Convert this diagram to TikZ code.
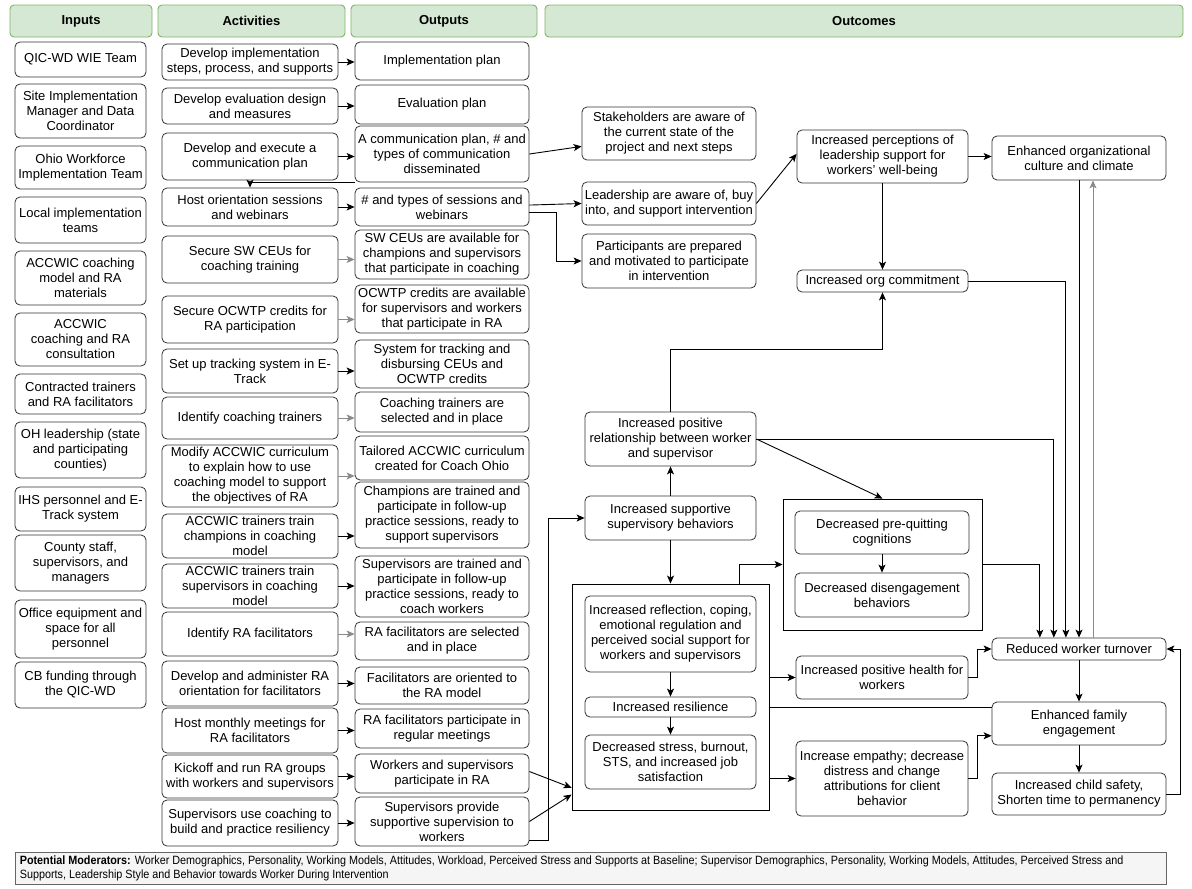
\documentclass[tikz,border=0pt]{standalone}
\usepackage{fontspec}
\setmainfont{Liberation Sans}
\newfontfamily\narrowfont[FakeStretch=0.9]{Liberation Sans}
\usetikzlibrary{arrows.meta,calc}
\definecolor{hdrfill}{HTML}{D5E8D4}
\definecolor{hdrline}{HTML}{82B366}
\definecolor{footfill}{HTML}{F5F5F5}
\definecolor{footline}{HTML}{666666}
\definecolor{garrow}{HTML}{8A8A8A}
\newcommand\bx[7][box]{%
  \pgfmathsetmacro\bxw{#5-#3}%
  \pgfmathsetmacro\bxh{#6-#4}%
  \pgfmathsetmacro\bxx{(#3+#5)/2}%
  \pgfmathsetmacro\bxy{(#4+#6)/2}%
  \node[#1, minimum width=\bxw pt, minimum height=\bxh pt] (#2) at (\bxx,\bxy) {#7};}
\begin{document}
\begin{tikzpicture}[x=1pt,y=-1pt,
  box/.style={draw=black!80, line width=0.8pt, rounded corners=5pt, align=center, inner sep=1pt, font=\fontsize{13}{15}\selectfont, fill=white},
  hdr/.style={draw=hdrline, fill=hdrfill, line width=0.9pt, rounded corners=4pt, align=center, inner sep=1pt, font=\fontsize{13}{15}\selectfont\bfseries},
  sqbox/.style={draw=black, line width=0.9pt, inner sep=0pt},
  footbox/.style={draw=footline, fill=footfill, line width=0.8pt, inner sep=0pt},
  arr/.style={-{Stealth[length=8pt,width=7pt,inset=2pt]}, line width=0.9pt},
  garr/.style={arr, draw=garrow},
  ln/.style={line width=0.9pt}]
\useasboundingbox (0,0) rectangle (1192,889);
\fill[white] (0,0) rectangle (1192,889);
% headers
\bx[hdr]{hIn}{10}{5}{152}{37}{Inputs}
\bx[hdr]{hAct}{158}{5}{345}{37}{Activities}
\bx[hdr]{hOut}{351}{5}{537}{37}{Outputs}
\bx[hdr]{hOc}{545}{5}{1183}{37}{Outcomes}
% inputs
\bx{i1}{15}{42}{146}{77}{QIC-WD WIE Team}
\bx{i2}{15}{84}{146}{138}{Site Implementation\\Manager and Data\\Coordinator}
\bx{i3}{15}{146}{146}{189}{Ohio Workforce\\Implementation Team}
\bx{i4}{15}{197}{146}{243}{Local implementation\\teams}
\bx{i5}{15}{251}{146}{305}{ACCWIC coaching\\model and RA\\materials}
\bx{i6}{15}{313}{146}{366}{ACCWIC\\coaching and RA\\consultation}
\bx{i7}{15}{374}{146}{414}{Contracted trainers\\and RA facilitators}
\bx{i8}{15}{422}{146}{478}{OH leadership (state\\and participating\\counties)}
\bx{i9}{15}{487}{146}{531}{IHS personnel and E-\\Track system}
\bx{i10}{15}{535}{146}{591}{County staff,\\supervisors, and\\managers}
\bx{i11}{15}{600}{146}{658}{Office equipment and\\space for all\\personnel}
\bx{i12}{15}{662}{146}{708}{CB funding through\\the QIC-WD}
% activities
\bx{a1}{162}{44}{338}{80}{Develop implementation\\steps, process, and supports}
\bx{a2}{162}{88}{338}{124}{Develop evaluation design\\and measures}
\bx{a3}{162}{133}{338}{180}{Develop and execute a\\communication plan}
\bx{a4}{162}{188}{338}{226}{Host orientation sessions\\and webinars}
\bx{a5}{162}{236}{338}{283}{Secure SW CEUs for\\coaching training}
\bx{a6}{162}{296}{338}{343}{Secure OCWTP credits for\\RA participation}
\bx{a7}{162}{349}{338}{393}{Set up tracking system in E-\\Track}
\bx{a8}{162}{397}{338}{439}{Identify coaching trainers}
\bx{a9}{162}{445}{338}{507}{Modify ACCWIC curriculum\\to explain how to use\\coaching model to support\\the objectives of RA}
\bx{a10}{162}{514}{338}{558}{ACCWIC trainers train\\champions in coaching\\model}
\bx{a11}{162}{564}{338}{608}{ACCWIC trainers train\\supervisors in coaching\\model}
\bx{a12}{162}{612}{338}{656}{Identify RA facilitators}
\bx{a13}{162}{661}{338}{706}{Develop and administer RA\\orientation for facilitators}
\bx{a14}{162}{708}{338}{753}{Host monthly meetings for\\RA facilitators}
\bx{a15}{162}{755}{338}{798}{Kickoff and run RA groups\\with workers and supervisors}
\bx{a16}{162}{800}{338}{846}{Supervisors use coaching to\\build and practice resiliency}
% outputs
\bx{o1}{355}{42}{529}{80}{Implementation plan}
\bx{o2}{355}{85}{529}{124}{Evaluation plan}
\bx{o3}{355}{126}{529}{182}{A communication plan, \# and\\types of communication\\disseminated}
\bx{o4}{355}{188}{529}{226}{\# and types of sessions and\\webinars}
\bx{o5}{355}{230}{529}{279}{SW CEUs are available for\\champions and supervisors\\that participate in coaching}
\bx{o6}{355}{285}{529}{333}{OCWTP credits are available\\for supervisors and workers\\that participate in RA}
\bx{o7}{355}{340}{529}{388}{System for tracking and\\disbursing CEUs and\\OCWTP credits}
\bx{o8}{355}{392}{529}{432}{Coaching trainers are\\selected and in place}
\bx{o9}{355}{436}{529}{480}{Tailored ACCWIC curriculum\\created for Coach Ohio}
\bx{o10}{355}{482}{529}{548}{Champions are trained and\\participate in follow-up\\practice sessions, ready to\\support supervisors}
\bx{o11}{355}{556}{529}{617}{Supervisors are trained and\\participate in follow-up\\practice sessions, ready to\\coach workers}
\bx{o12}{355}{622}{529}{660}{RA facilitators are selected\\and in place}
\bx{o13}{355}{667}{529}{704}{Facilitators are oriented to\\the RA model}
\bx{o14}{355}{709}{529}{748}{RA facilitators participate in\\regular meetings}
\bx{o15}{355}{754}{529}{793}{Workers and supervisors\\participate in RA}
\bx{o16}{355}{797}{529}{846}{Supervisors provide\\supportive supervision to\\workers}
% outcomes
\bx{s1}{582}{107}{756}{160}{Stakeholders are aware of\\the current state of the\\project and next steps}
\bx{s2}{582}{182}{756}{225}{Leadership are aware of, buy\\into, and support intervention}
\bx{s3}{582}{234}{756}{288}{Participants are prepared\\and motivated to participate\\in intervention}
\bx{p1}{797}{130}{968}{183}{Increased perceptions of\\leadership support for\\workers{\char39} well-being}
\bx{c1}{992}{136}{1166}{180}{Enhanced organizational\\culture and climate}
\bx{oc}{797}{270}{968}{292}{Increased org commitment}
\bx{r1}{585}{412}{756}{466}{Increased positive\\relationship between worker\\and supervisor}
\bx{ss}{585}{496}{756}{540}{Increased supportive\\supervisory behaviors}
\bx[sqbox]{big}{572}{584}{769}{810}{}
\bx{rf}{585}{596}{756}{672}{Increased reflection, coping,\\emotional regulation and\\perceived social support for\\workers and supervisors}
\bx{rs}{585}{697}{756}{717}{Increased resilience}
\bx{ds}{585}{735}{756}{789}{Decreased stress, burnout,\\STS, and increased job\\satisfaction}
\bx[sqbox]{box2}{783}{499}{982}{630}{}
\bx{pq}{795}{511}{969}{554}{Decreased pre-quitting\\cognitions}
\bx{dg}{795}{573}{969}{617}{Decreased disengagement\\behaviors}
\bx{tv}{992}{638}{1166}{660}{Reduced worker turnover}
\bx{ph}{796}{656}{968}{699}{Increased positive health for\\workers}
\bx{fe}{992}{702}{1166}{745}{Enhanced family\\engagement}
\bx{em}{796}{741}{968}{816}{Increase empathy; decrease\\distress and change\\attributions for client\\behavior}
\bx{cs}{992}{773}{1166}{815}{Increased child safety,\\Shorten time to permanency}
% footer
\bx[footbox]{ft}{15}{852}{1166}{884}{}
\node[anchor=west, align=left, inner sep=0pt, font=\narrowfont\fontsize{12}{14}\selectfont] (fttext) at ($(ft.west)+(5,0)$)
 {\textbf{Potential Moderators:} Worker Demographics, Personality, Working Models, Attitudes, Workload, Perceived Stress and Supports at Baseline; Supervisor Demographics, Personality, Working Models, Attitudes, Perceived Stress and\\Supports, Leadership Style and Behavior towards Worker During Intervention};
% activity -> output
\foreach \i in {1,2,3,4,7,10,11,13,14,15,16} \draw[arr] (a\i.east) -- (a\i.east -| o\i.west);
\foreach \i in {5,6,8,9,12} \draw[garr] (a\i.east) -- (a\i.east -| o\i.west);
% comm plan output -> host orientation
\draw[arr] (o3.south west) -- (o3.south west -| a4.north) -- (a4.north);
% outputs -> short-term outcomes
\draw[arr] (o3.east) -- ($(s1.north west)!0.74!(s1.south west)$);
\draw[arr] ($(o4.north east)!0.45!(o4.south east)$) -- ($(s2.north west)!0.5!(s2.south west)$);
\draw[arr] ($(o4.north east)!0.65!(o4.south east)$) -- ++(27,0) |- (s3.west);
\draw[arr] (s2.east) -- ($(p1.north west)!0.45!(p1.south west)$);
\draw[arr] (p1.east) -- (p1.east -| c1.west);
\draw[arr] (p1.south) -- (oc.north);
% relationship / supervision chain
\draw[arr] (r1.north) -- ++(0,-62) -| (oc.south);
\draw[arr] (ss.north) -- (r1.south);
\draw[arr] (ss.south) -- (big.north);
\draw[arr] ($(big.north west)!0.85!(big.north east)$) |- (box2.west);
\draw[arr] (r1.east) -- (box2.north);
\draw[arr] (r1.east) -| ($(tv.north west)!0.356!(tv.north east)$);
\draw[arr] (box2.east) -| ($(tv.north west)!0.276!(tv.north east)$);
\draw[arr] (oc.east) -| ($(tv.north west)!0.425!(tv.north east)$);
\draw[arr] (c1.south) -- (c1.south |- tv.north);
\coordinate (g1) at ($(tv.north west)!0.58!(tv.north east)$);
\draw[garr] (g1) -- (g1 |- c1.south);
% inside boxes
\draw[arr] (rf.south) -- (rs.north);
\draw[arr] (rs.south) -- (ds.north);
\draw[arr] (pq.south) -- (dg.north);
% big box -> right
\draw[arr] (ph.west -| big.east) -- (ph.west);
\draw[arr] (ph.east) -- ++(9,0) |- (tv.west);
\draw[arr] (em.west -| big.east) -- (em.west);
\draw[arr] (em.east) -- ++(9,0) |- ($(fe.north west)!0.78!(fe.south west)$);
\draw[ln] (fe.west |- rs.east) -- (big.east |- rs.east);
\draw[arr] (tv.south) -- (fe.north);
\draw[arr] (fe.south) -- (cs.north);
\draw[arr] (cs.east) -- ++(14,0) |- (tv.east);
% outputs -> big box / supportive
\draw[arr] ($(o15.north east)!0.45!(o15.south east)$) -- ($(big.north west)!0.9!(big.south west)$);
\draw[arr] ($(o16.north east)!0.5!(o16.south east)$) -- ($(big.north west)!0.93!(big.south west)$);
\draw[arr] ($(o16.north east)!0.88!(o16.south east)$) -- ++(19,0) |- (ss.west);
\end{tikzpicture}
\end{document}
